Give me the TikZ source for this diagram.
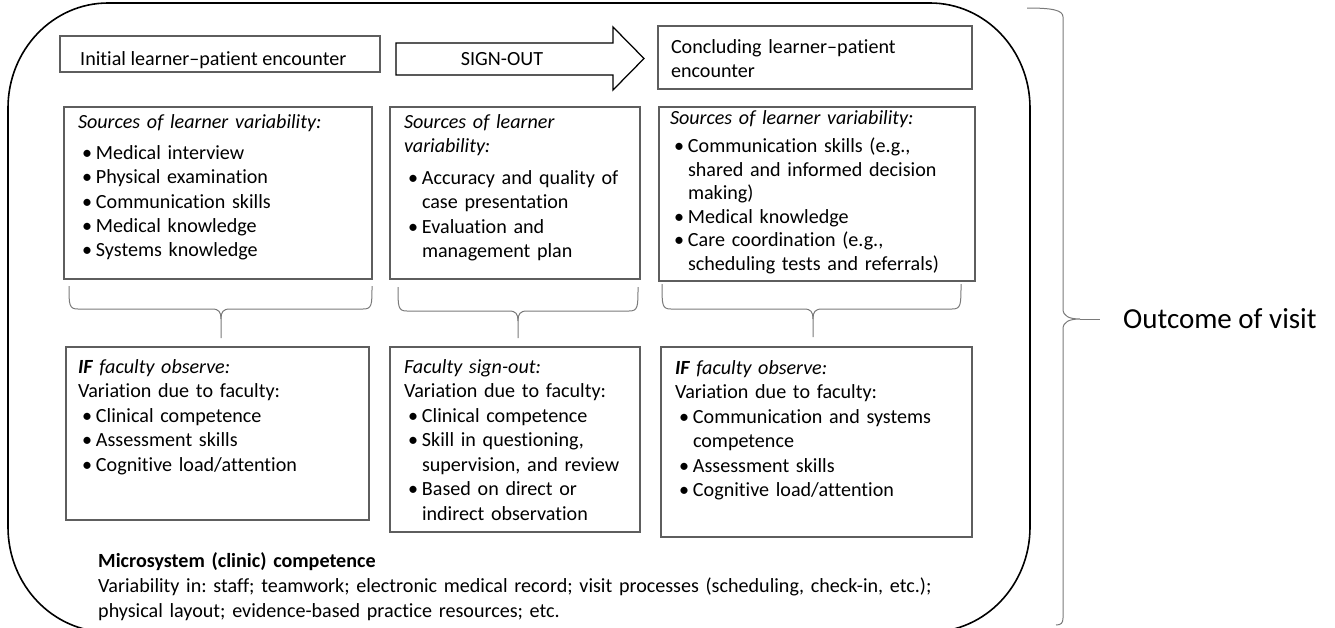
\documentclass[tikz,border=0pt]{standalone}
\usepackage{fontspec}
\setmainfont{Carlito}[Ligatures=NoCommon]
\definecolor{boxgray}{HTML}{5E5E5E}
\definecolor{bracegray}{HTML}{7A7A7A}
\setlength{\parindent}{0pt}
\frenchspacing
\newcommand{\bodyfont}{\frenchspacing\fontsize{20.1}{24.4}\selectfont}
\newcommand{\tightfont}{\frenchspacing\fontsize{20.1}{23.5}\selectfont}
\newcommand{\lowfont}{\frenchspacing\fontsize{20.1}{24.5}\selectfont}
\newcommand{\micfont}{\frenchspacing\fontsize{20.1}{25}\selectfont}
\newcommand{\itm}[1]{\par\hangindent=18pt\hangafter=1\makebox[18pt][l]{\hspace{4pt}\textbullet}#1}
\newcommand{\hbr}[6]{%
  \draw[bracestyle] (#1,#4) .. controls (#1,#5-4) and (#1,#5) .. (#1+9,#5) -- (#3-9,#5) .. controls (#3-2,#5) and (#3,#5+3) .. (#3,#5+10) -- (#3,#6);
  \draw[bracestyle] (#2,#4) .. controls (#2,#5-4) and (#2,#5) .. (#2-9,#5) -- (#3+9,#5) .. controls (#3+2,#5) and (#3,#5+3) .. (#3,#5+10);}
\begin{document}
\begin{tikzpicture}[x=1pt,y=-1pt,
  box/.style={draw=boxgray, line width=1.15pt, inner sep=0pt, outer sep=0pt, anchor=north west},
  bracestyle/.style={draw=bracegray, line width=1pt},
  txt/.style={anchor=north west, inner sep=0pt, outer sep=0pt, text width=330pt},
  ]
\useasboundingbox (0,0) rectangle (1335,627);
% outer rounded frame
\draw[black, line width=1.6pt] (108,3) -- (930,3) .. controls (985.2,3) and (1030,50) .. (1030,108) -- (1030,527) .. controls (1030,585) and (985.2,632) .. (930,632) -- (108,632) .. controls (52.8,632) and (8,585) .. (8,527) -- (8,108) .. controls (8,50) and (52.8,3) .. (108,3) -- cycle;

% top row
\node[box, minimum width=320pt, minimum height=36pt] (A) at (60,36) {};
\node[anchor=base west, inner sep=0pt, font=\bodyfont] (tA) at (80,65.5) {Initial learner–patient encounter};
\draw[black, line width=1.25pt, line join=miter] (396,43) -- (613,43) -- (613,27) -- (644,58.5) -- (613,90) -- (613,75) -- (396,75) -- cycle;
\node[inner sep=0pt, font=\bodyfont] (so) at (502,59) {SIGN-OUT};
\node[box, minimum width=314pt, minimum height=63pt] (C) at (658,26) {};
\node[txt, font=\bodyfont] (tC) at (671,36.4) {\strut Concluding learner–patient\newline encounter\par};

% middle row
\node[box, minimum width=308pt, minimum height=172pt] (m1) at (64,107) {};
\node[box, minimum width=250pt, minimum height=172pt] (m2) at (390,107) {};
\node[box, minimum width=316pt, minimum height=174pt] (m3) at (659,107) {};
\node[txt, font=\bodyfont] (tm1) at (78,111.4) {\strut\textit{Sources of learner variability:}\par\vspace{6.5pt}%
\itm{Medical interview}\itm{Physical examination}\itm{Communication skills}\itm{Medical knowledge}\itm{Systems knowledge}\par};
\node[txt, font=\bodyfont] (tm2) at (404,111.4) {\strut\textit{Sources of learner\newline variability:}\par\vspace{7pt}%
\itm{Accuracy and quality of\newline case presentation}\itm{Evaluation and\newline management plan}\par};
\node[txt, font=\tightfont] (tm3) at (670,108) {\strut\textit{Sources of learner variability:}\par\vspace{5pt}%
\itm{Communication skills (e.g.,\newline shared and informed decision\newline making)}\itm{Medical knowledge}\itm{Care coordination (e.g.,\newline scheduling tests and referrals)}\par};

% braces
\hbr{69}{372}{221}{286}{309}{338}
\hbr{398}{638}{518}{287}{311}{338}
\hbr{662}{961}{813}{284}{309}{337}

% bottom row
\node[box, minimum width=303pt, minimum height=173pt] (b1) at (66,347) {};
\node[box, minimum width=250pt, minimum height=185pt] (b2) at (390,347) {};
\node[box, minimum width=311pt, minimum height=190pt] (b3) at (661,347) {};
\node[txt, font=\lowfont] (tb1) at (78,356.3) {\strut\textit{\textbf{IF} faculty observe:}\par
Variation due to faculty:%
\itm{Clinical competence}\itm{Assessment skills}\itm{Cognitive load/attention}\par};
\node[txt, font=\lowfont] (tb2) at (404,356.3) {\strut\textit{Faculty sign-out:}\par
Variation due to faculty:%
\itm{Clinical competence}\itm{Skill in questioning,\newline supervision, and review}\itm{Based on direct or\newline indirect observation}\par};
\node[txt, font=\bodyfont] (tb3) at (675,357.4) {\strut\textit{\textbf{IF} faculty observe:}\par
Variation due to faculty:%
\itm{Communication and systems\newline competence}\itm{Assessment skills}\itm{Cognitive load/attention}\par};

% microsystem
\node[anchor=north west, inner sep=0pt, text width=940pt, font=\micfont] (mic) at (98,550) {\strut\textbf{Microsystem (clinic) competence}\newline
Variability in: staff; teamwork; electronic medical record; visit processes (scheduling, check-in, etc.);\newline
physical layout; evidence-based practice resources; etc.\par};

% outcome bracket
\coordinate (tip) at (1080,319);
\coordinate (tipend) at (1100,319);
\draw[bracestyle] (1027,8) .. controls (1052,8) and (1063,10) .. (1063,17) -- (1063,309) .. controls (1063,316) and (1069,319) .. (tip) .. controls (1069,319) and (1063,322) .. (1063,329) -- (1063,618) .. controls (1063,623) and (1061,625) .. (1056,625);
\draw[bracestyle] (tip) -- (tipend);
\node[anchor=base west, inner sep=0pt, font=\fontsize{29}{35}\selectfont] (out) at (1123,328.5) {Outcome of visit};
\end{tikzpicture}
\end{document}
